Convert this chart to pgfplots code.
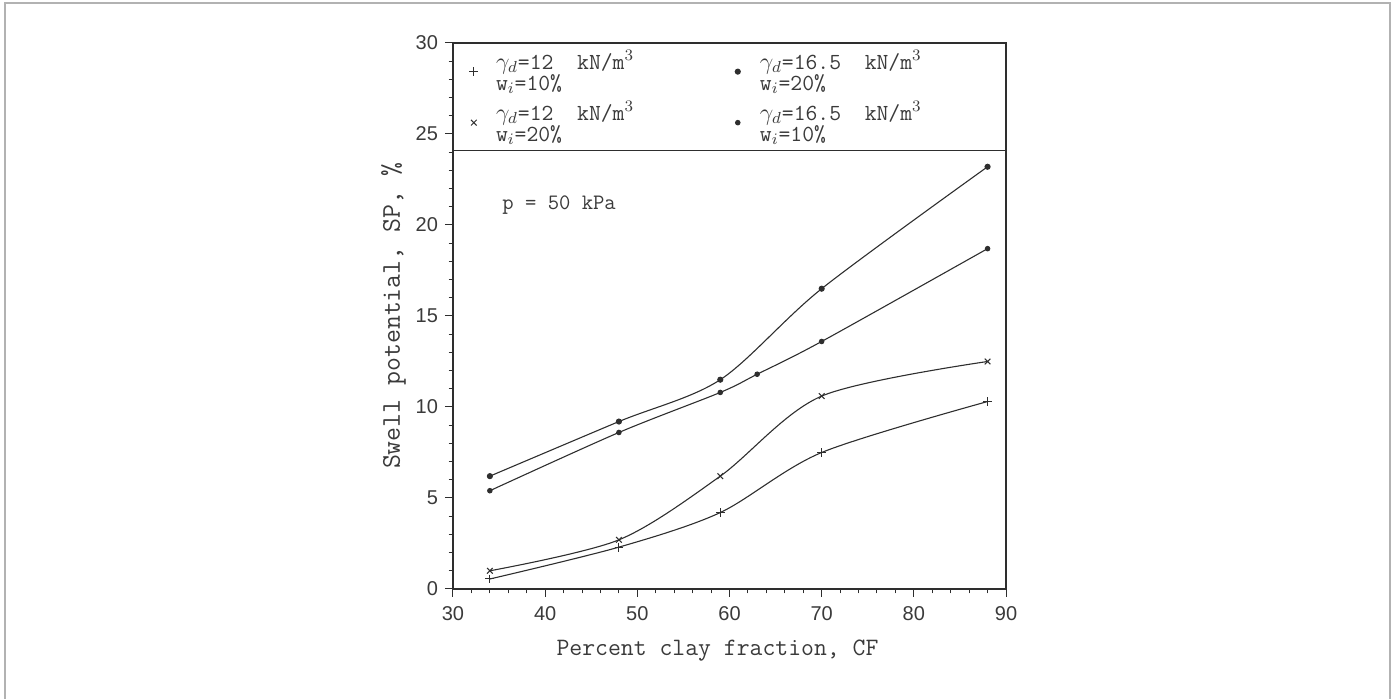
\documentclass[border=0pt]{standalone}
\usepackage{fontspec}
\usepackage{pgfplots}
\pgfplotsset{compat=1.18}
\newfontfamily\tickfont{Liberation Sans}
\definecolor{ink}{HTML}{2E2E2E}
\definecolor{txt}{HTML}{3A3A3A}
\begin{document}
\begin{tikzpicture}[x=1pt,y=1pt]
\useasboundingbox (-226.5,-55) rectangle (471.5,294.5);
\draw[gray!60, line width=0.9pt] (-224,-56) -- (-224,293) -- (468.5,293) -- (468.5,-56);
\begin{axis}[
  at={(0,0)}, anchor=south west,
  scale only axis, width=276.5pt, height=273pt,
  xmin=30, xmax=90, ymin=0, ymax=30,
  xtick={30,40,...,90}, ytick={0,5,...,30},
  minor x tick num=4, minor y tick num=4,
  tick align=outside, xtick pos=bottom, ytick pos=left,
  major tick length=4pt, minor tick length=2.2pt,
  every tick/.style={ink, line width=0.5pt},
  axis line style={ink, line width=0.7pt},
  /pgf/number format/assume math mode=true,
  ticklabel style={font=\tickfont\fontsize{10}{12}\selectfont, text=txt},
  xticklabel style={yshift=-1pt},
  xlabel={Percent clay fraction, CF},
  ylabel={Swell potential, SP, \%},
  xlabel style={font=\ttfamily\fontsize{12.5}{14}\selectfont, text=txt, yshift=-3pt, xshift=-6pt},
  ylabel style={font=\ttfamily\fontsize{13.5}{15}\selectfont, text=txt, yshift=-2pt},
  legend columns=2,
  legend style={at={(axis cs:31.6,29.85)}, anchor=north west, draw=none, fill=none,
    font=\ttfamily\fontsize{11.5}{10.5}\selectfont, text=txt,
    cells={anchor=west, align=left},
    row sep=0pt, inner sep=0pt,
    /tikz/every even column/.append style={column sep=47pt}},
  legend image code/.code={\path[draw=none, fill=none] (0,0) -- (0.42cm,0); \draw[#1] plot[only marks] coordinates {(0.1cm,0cm)};},
  every axis plot/.append style={ink, line width=0.55pt, smooth},
]
\addplot[mark=+, mark size=2.2pt, mark options={solid, line width=0.5pt}] coordinates {
  (34,0.55) (48,2.3) (59,4.2) (70,7.5) (88,10.3)};
\addlegendentry{$\gamma_d$=12~~kN/m$^3$\\w$_i$=10\%}
\addplot[mark=*, mark size=1.25pt] coordinates {
  (34,6.2) (48,9.2) (59,11.5) (70,16.5) (88,23.2)};
\addlegendentry{$\gamma_d$=16.5~~kN/m$^3$\\w$_i$=20\%}
\addplot[mark=x, mark size=2pt, mark options={solid, line width=0.5pt}] coordinates {
  (34,1.0) (48,2.7) (59,6.2) (70,10.6) (88,12.5)};
\addlegendentry{$\gamma_d$=12~~kN/m$^3$\\w$_i$=20\%}
\addplot[mark=*, mark size=1.1pt] coordinates {
  (34,5.4) (48,8.6) (59,10.8) (63,11.8) (70,13.6) (88,18.7)};
\addlegendentry{$\gamma_d$=16.5~~kN/m$^3$\\w$_i$=10\%}
\draw[ink, line width=0.7pt] (axis cs:30,24.1) -- (axis cs:90,24.1);
\node[anchor=west, font=\ttfamily\fontsize{11}{12}\selectfont, text=txt] at (axis cs:34.6,21.1) {p = 50 kPa};
\end{axis}
\end{tikzpicture}
\end{document}
